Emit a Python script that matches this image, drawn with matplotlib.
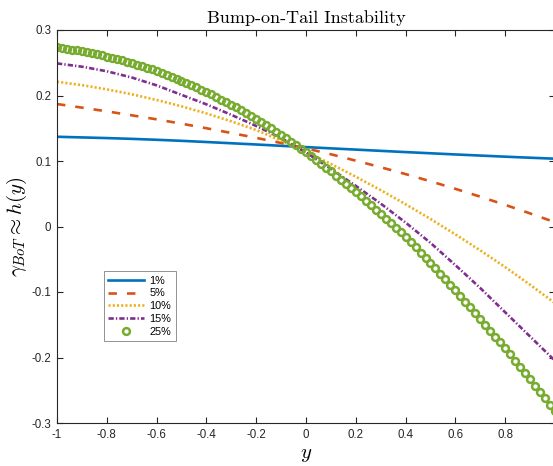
import numpy as np
import matplotlib
matplotlib.use("Agg")
import matplotlib.pyplot as plt

# ---------------- data ----------------
x_lines = np.linspace(-1.0, 1.0, 21)
x_dense = np.linspace(-1.0, 1.0, 101)

h_1 = [0.1370, 0.1360, 0.1350, 0.1338, 0.1324, 0.1308, 0.1290, 0.1271, 0.1252, 0.1232,
       0.1212, 0.1193, 0.1174, 0.1155, 0.1136, 0.1118, 0.1100, 0.1083, 0.1066, 0.1050, 0.1035]
h_5 = [0.1870, 0.1815, 0.1758, 0.1698, 0.1636, 0.1570, 0.1500, 0.1428, 0.1353, 0.1275,
       0.1193, 0.1103, 0.1005, 0.0905, 0.0800, 0.0690, 0.0575, 0.0455, 0.0330, 0.0200, 0.0065]
h_10 = [0.2210, 0.2158, 0.2094, 0.2019, 0.1932, 0.1835, 0.1726, 0.1605, 0.1473, 0.1310,
        0.1140, 0.0955, 0.0760, 0.0555, 0.0340, 0.0115, -0.0120, -0.0365, -0.0620, -0.0890, -0.1170]
h_15 = [0.2490, 0.2440, 0.2370, 0.2275, 0.2155, 0.2010, 0.1865, 0.1705, 0.1535, 0.1350,
        0.1130, 0.0880, 0.0620, 0.0350, 0.0060, -0.0250, -0.0590, -0.0940, -0.1310, -0.1680, -0.2050]
h_25 = [0.2740, 0.2727, 0.2714, 0.2701, 0.2688, 0.2675, 0.2659, 0.2643, 0.2627, 0.2611,
        0.2595, 0.2575, 0.2555, 0.2535, 0.2515, 0.2495, 0.2471, 0.2447, 0.2423, 0.2399,
        0.2375, 0.2345, 0.2315, 0.2285, 0.2255, 0.2225, 0.2191, 0.2157, 0.2123, 0.2089,
        0.2055, 0.2016, 0.1977, 0.1938, 0.1899, 0.1860, 0.1817, 0.1774, 0.1731, 0.1688,
        0.1645, 0.1596, 0.1547, 0.1498, 0.1449, 0.1400, 0.1346, 0.1292, 0.1238, 0.1184,
        0.1130, 0.1072, 0.1014, 0.0956, 0.0898, 0.0840, 0.0778, 0.0716, 0.0654, 0.0592,
        0.0530, 0.0462, 0.0394, 0.0326, 0.0258, 0.0190, 0.0120, 0.0050, -0.0020, -0.0090,
        -0.0160, -0.0239, -0.0318, -0.0397, -0.0476, -0.0555, -0.0639, -0.0723, -0.0807, -0.0891,
        -0.0975, -0.1062, -0.1149, -0.1236, -0.1323, -0.1410, -0.1500, -0.1590, -0.1680, -0.1770,
        -0.1860, -0.1954, -0.2048, -0.2142, -0.2236, -0.2330, -0.2428, -0.2526, -0.2624, -0.2722,
        -0.2820]

labels = ["1%", "5%", "10%", "15%", "25%"]
xticks = [-1, -0.8, -0.6, -0.4, -0.2, 0, 0.2, 0.4, 0.6, 0.8]
xticklabels = ["-1", "-0.8", "-0.6", "-0.4", "-0.2", "0", "0.2", "0.4", "0.6", "0.8"]
yticks = [-0.3, -0.2, -0.1, 0, 0.1, 0.2, 0.3]
yticklabels = ["-0.3", "-0.2", "-0.1", "0", "0.1", "0.2", "0.3"]

# ---------------- style ----------------
plt.rcParams["mathtext.fontset"] = "cm"
plt.rcParams["axes.unicode_minus"] = False
plt.rcParams["font.family"] = ["Liberation Sans", "DejaVu Sans"]

colors = ["#0072BD", "#D95319", "#EDB120", "#7E2F8E", "#77AC30"]
axc = "#262626"

fig = plt.figure(figsize=(5.53, 4.66), dpi=100)
W, H = 553, 466
ax = fig.add_axes([57 / W, (H - 423) / H, 498 / W, 393 / H])

lw = 1.9
ax.plot(x_lines, h_1, color=colors[0], lw=lw, label=labels[0])
ax.plot(x_lines, h_5, color=colors[1], lw=lw, dashes=(3.2, 3.8), label=labels[1])
ax.plot(x_lines, h_10, color=colors[2], lw=lw, dashes=(0.8, 0.8), label=labels[2])
ax.plot(x_lines, h_15, color=colors[3], lw=lw, dashes=(2.0, 0.8, 0.5, 0.8), label=labels[3])
ax.plot(x_dense, h_25, color=colors[4], lw=0, marker="o", ms=4.9, mew=1.8,
        mfc="none", mec=colors[4], label=labels[4])

ax.set_xlim(-1, 1)
ax.set_ylim(-0.3, 0.3)
ax.set_xticks(xticks)
ax.set_xticklabels(xticklabels)
ax.set_yticks(yticks)
ax.set_yticklabels(yticklabels)
ax.tick_params(direction="in", length=4, width=0.8, colors=axc, labelsize=8.3,
               top=True, right=True, pad=4)
for s in ax.spines.values():
    s.set_color(axc)
    s.set_linewidth(0.8)

ax.set_title("Bump-on-Tail Instability", family="cmr10", fontsize=13, pad=5, color="black")
ax.set_xlabel(r"$y$", fontsize=15, labelpad=3)
ax.set_ylabel(r"$\gamma_{BoT} \approx h(y)$", fontsize=15, labelpad=2)

leg = ax.legend(loc="lower left", bbox_to_anchor=(0.094, 0.209), borderaxespad=0,
                fontsize=7.8, handlelength=3.3, labelspacing=0.25, handletextpad=0.5,
                borderpad=0.4, frameon=True, fancybox=False, framealpha=1)
leg.get_frame().set_edgecolor("#808080")
leg.get_frame().set_linewidth(0.6)

fig.savefig("out.png", dpi=100)
